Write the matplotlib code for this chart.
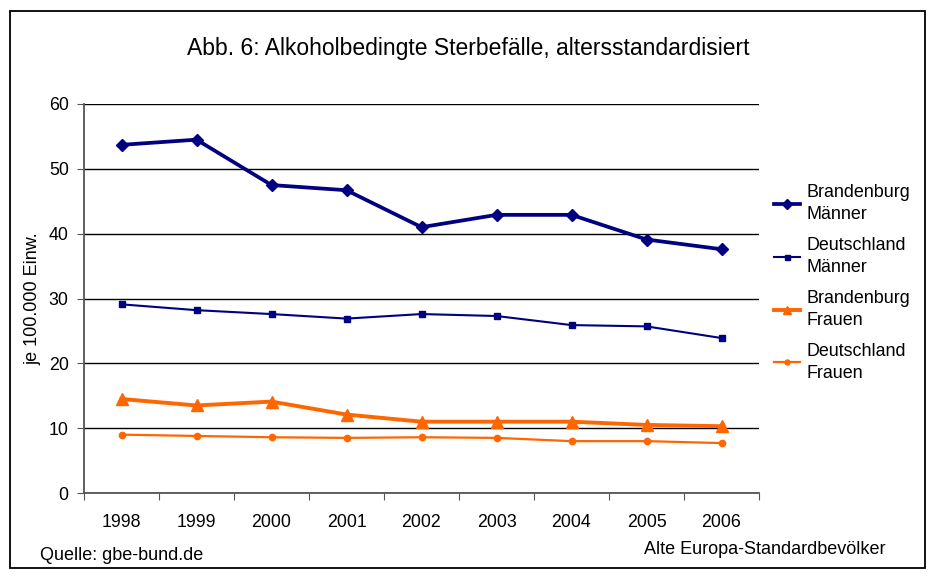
import matplotlib
matplotlib.use('Agg')
from matplotlib import pyplot as plt
from matplotlib.patches import Rectangle
from matplotlib.ticker import FixedLocator, NullFormatter

plt.rcParams['font.family'] = ['Liberation Sans', 'DejaVu Sans']

years = ['1998', '1999', '2000', '2001', '2002', '2003', '2004', '2005', '2006']
bb_maenner = [53.7, 54.5, 47.5, 46.7, 41.0, 42.9, 42.9, 39.1, 37.6]
de_maenner = [29.1, 28.2, 27.6, 26.9, 27.6, 27.3, 25.9, 25.7, 23.9]
bb_frauen = [14.5, 13.5, 14.1, 12.1, 11.0, 11.0, 11.0, 10.5, 10.3]
de_frauen = [9.0, 8.8, 8.6, 8.5, 8.6, 8.5, 8.0, 8.0, 7.7]

navy = '#000080'
orange = '#FF6600'

fig = plt.figure(figsize=(9.36, 5.79), dpi=100)
fig.patches.append(Rectangle((10 / 936, 11 / 579), 915 / 936, 557 / 579,
                             transform=fig.transFigure, fill=False,
                             edgecolor='black', linewidth=1.3))

ax = fig.add_axes([84 / 936, 86 / 579, 675 / 936, 389 / 579])
x = list(range(len(years)))
l1, = ax.plot(x, bb_maenner, color=navy, lw=2.7, marker='D', ms=6)
l2, = ax.plot(x, de_maenner, color=navy, lw=1.5, marker='s', ms=4.5)
l3, = ax.plot(x, bb_frauen, color=orange, lw=2.8, marker='^', ms=8)
l4, = ax.plot(x, de_frauen, color=orange, lw=1.6, marker='o', ms=4.5)

ax.set_xlim(-0.5, len(years) - 0.5)
ax.set_ylim(0, 60)
ax.set_yticks(range(0, 61, 10))
ax.yaxis.grid(True, color='black', lw=1)
ax.set_axisbelow(True)
ax.xaxis.set_major_locator(FixedLocator([i - 0.5 for i in range(len(years) + 1)]))
ax.xaxis.set_major_formatter(NullFormatter())
ax.xaxis.set_minor_locator(FixedLocator(x))
ax.set_xticklabels(years, minor=True)
ax.tick_params(axis='x', which='minor', length=0, pad=15, labelsize=12.8)
ax.tick_params(axis='x', which='major', length=5, color='#555555')
ax.tick_params(axis='y', length=5, color='#555555', labelsize=12.8, pad=6)
for s in ['top', 'right']:
    ax.spines[s].set_visible(False)
ax.spines['left'].set_color('#555555')
ax.spines['bottom'].set_color('#555555')
ax.spines['left'].set_linewidth(1.3)
ax.spines['bottom'].set_linewidth(1.3)
ax.set_ylabel('je 100.000 Einw.', fontsize=13, labelpad=14)
ax.yaxis.set_label_coords(-43 / 675, 0.5)

fig.text(0.5, 1 - 48 / 579, 'Abb. 6: Alkoholbedingte Sterbefälle, altersstandardisiert',
         ha='center', va='center', fontsize=16.5)
fig.text(40 / 936, 1 - 556 / 579, 'Quelle: gbe-bund.de', ha='left', va='center', fontsize=13)
fig.text(886 / 936, 1 - 550 / 579, 'Alte Europa-Standardbevölker', ha='right', va='center', fontsize=13)

leg = fig.legend([l1, l2, l3, l4],
                 ['Brandenburg\nMänner', 'Deutschland\nMänner', 'Brandenburg\nFrauen', 'Deutschland\nFrauen'],
                 loc='upper left', bbox_to_anchor=(760 / 936, 1 - 170 / 579), frameon=False,
                 fontsize=12.9, handlelength=1.45, handletextpad=0.35, labelspacing=0.8,
                 markerscale=0.8, borderpad=0.3)
for t in leg.get_texts():
    t.set_linespacing(1.35)

fig.savefig('out.png', dpi=100)
